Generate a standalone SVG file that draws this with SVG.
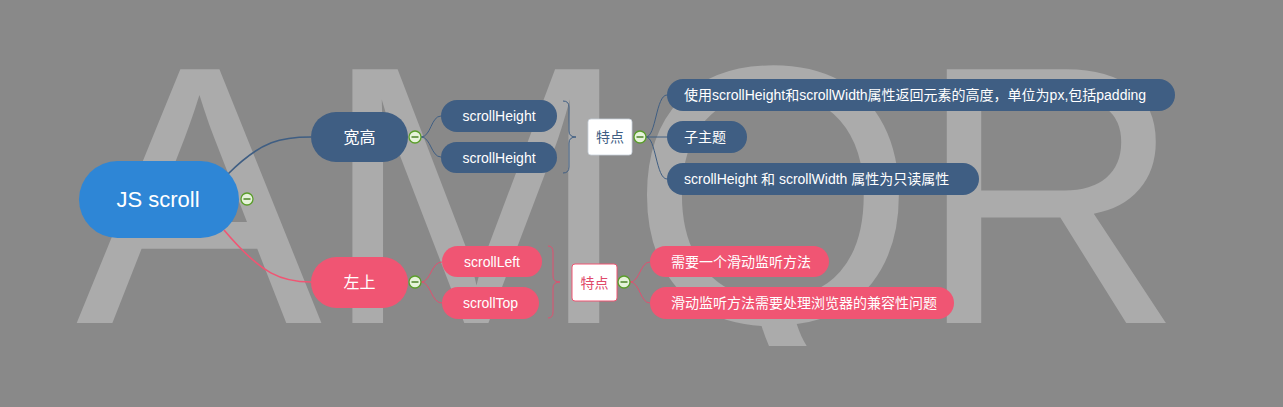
<svg xmlns="http://www.w3.org/2000/svg" width="1283" height="407" viewBox="0 0 1283 407">
<defs>
<clipPath id="wm"><rect x="0" y="0" width="1283" height="346"/></clipPath>
</defs>
<style>
text{font-family:"Liberation Sans","Noto Sans CJK SC",sans-serif;fill:#fff;dominant-baseline:central}
.mid{text-anchor:middle}
.blue{fill:#3f5e83}
.pink{fill:#f05573}
.cb circle{fill:#e6f3da;stroke:#5a9e2a;stroke-width:1.3}
.cb line{stroke:#3f7a1a;stroke-width:1.4}
.lb{fill:none;stroke:#3f5e83;stroke-width:1}
.lp{fill:none;stroke:#e05070;stroke-width:1}
</style>
<rect width="1283" height="407" fill="#898989"/>
<text x="76" y="323" font-size="369" clip-path="url(#wm)" style="fill:#ababab;dominant-baseline:auto">AMQR</text>

<g id="connectors">
<path d="M228,174 C262,140 282,137 311,137" fill="none" stroke="#3f5e83" stroke-width="1.6"/>
<path d="M224,230 C262,275 282,282 311,282" fill="none" stroke="#f05573" stroke-width="1.6"/>
<path class="lb" d="M421,137 C431,137 431,116 441,116"/>
<path class="lb" d="M421,137 C431,137 431,157 441,157"/>
<path class="lp" d="M421,282 C431,282 431,262 442,262"/>
<path class="lp" d="M421,282 C431,282 431,303 442,303"/>
<path class="lb" d="M563,101 Q569,101 569,107 L569,131 Q569,137 576,137 Q569,137 569,143 L569,167 Q569,173 563,173"/>
<path class="lp" d="M548,246 Q553,246 553,252 L553,276 Q553,282 560,282 Q553,282 553,288 L553,312 Q553,318 548,318"/>
<path class="lb" d="M646,137 C656,137 656,95 667,95"/>
<path class="lb" d="M646,137 L667,137"/>
<path class="lb" d="M646,137 C656,137 656,179 667,179"/>
<path class="lp" d="M630,282 C640,282 640,262 650,262"/>
<path class="lp" d="M630,282 C640,282 640,303 650,303"/>
</g>

<g id="root">
<rect x="79" y="161" width="160" height="77" rx="38.5" fill="#2e86d6"/>
<text x="158" y="199" class="mid" font-size="22">JS scroll</text>
<g class="cb"><circle cx="247" cy="199" r="6"/><line x1="243.5" y1="199" x2="250.5" y2="199"/></g>
</g>

<g id="n-kuangao">
<rect x="311" y="112" width="97" height="50" rx="25" class="blue"/>
<text x="359.5" y="137" class="mid" font-size="16">宽高</text>
<g class="cb"><circle cx="415" cy="137" r="6"/><line x1="411.5" y1="137" x2="418.5" y2="137"/></g>
</g>

<g id="n-zuoshang">
<rect x="311" y="257" width="97" height="51" rx="25.5" class="pink"/>
<text x="359.5" y="282.5" class="mid" font-size="16">左上</text>
<g class="cb"><circle cx="415" cy="282" r="6"/><line x1="411.5" y1="282" x2="418.5" y2="282"/></g>
</g>

<g id="n-sh1">
<rect x="441" y="100" width="116" height="32" rx="16" class="blue"/>
<text x="499" y="116" class="mid" font-size="14">scrollHeight</text>
</g>
<g id="n-sh2">
<rect x="441" y="142" width="116" height="31" rx="15.5" class="blue"/>
<text x="499" y="157.5" class="mid" font-size="14">scrollHeight</text>
</g>

<g id="n-sl">
<rect x="442" y="246" width="100" height="31" rx="15.5" class="pink"/>
<text x="492" y="261.5" class="mid" font-size="14">scrollLeft</text>
</g>
<g id="n-st">
<rect x="442" y="287" width="97" height="32" rx="16" class="pink"/>
<text x="490.5" y="303" class="mid" font-size="14">scrollTop</text>
</g>

<g id="n-tedian1">
<rect x="588" y="119" width="44" height="36" rx="3" fill="#fff" stroke="#c8d0da" stroke-width="0.8"/>
<text x="610" y="137" class="mid" font-size="14" style="fill:#3f5e83">特点</text>
<g class="cb"><circle cx="640" cy="137" r="6"/><line x1="636.5" y1="137" x2="643.5" y2="137"/></g>
</g>

<g id="n-tedian2">
<rect x="572" y="264" width="45" height="37" rx="3" fill="#fff" stroke="#f05573" stroke-width="1"/>
<text x="594.5" y="282.5" class="mid" font-size="14" style="fill:#e04a6a">特点</text>
<g class="cb"><circle cx="624" cy="282" r="6"/><line x1="620.5" y1="282" x2="627.5" y2="282"/></g>
</g>

<g id="n-b1">
<rect x="667" y="79" width="508" height="32" rx="16" class="blue"/>
<text x="684" y="95" font-size="14">使用scrollHeight和scrollWidth属性返回元素的高度，单位为px,包括padding</text>
</g>
<g id="n-b2">
<rect x="667" y="121" width="80" height="32" rx="16" class="blue"/>
<text x="684" y="137" font-size="14">子主题</text>
</g>
<g id="n-b3">
<rect x="667" y="163" width="312" height="32" rx="16" class="blue"/>
<text x="684" y="179" font-size="14">scrollHeight 和 scrollWidth 属性为只读属性</text>
</g>

<g id="n-p1">
<rect x="650" y="246" width="179" height="31" rx="15.5" class="pink"/>
<text x="671" y="261.5" font-size="14">需要一个滑动监听方法</text>
</g>
<g id="n-p2">
<rect x="650" y="287" width="304" height="32" rx="16" class="pink"/>
<text x="671" y="303" font-size="14">滑动监听方法需要处理浏览器的兼容性问题</text>
</g>
</svg>
